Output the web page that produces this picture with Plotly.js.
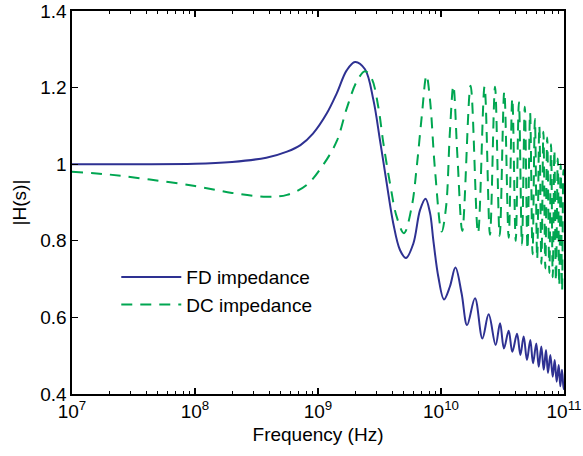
<!DOCTYPE html>
<html>
<head>
<meta charset="utf-8">
<script src="https://cdn.plot.ly/plotly-3.0.1.min.js"></script>
<style>
  html, body { margin: 0; padding: 0; background: #ffffff; }
  #chart { width: 583px; height: 456px; }
</style>
</head>
<body>
<div id="chart"></div>
<script>
// ---- Data ----
// FD impedance (solid blue): frequency in Hz, magnitude |H(s)|
const fdFreq = [
  1e7, 3e7, 1e8, 2e8, 3.8e8, 5.6e8, 7.2e8, 9.1e8, 1.18e9, 1.42e9, 1.71e9,
  2.0e9, 2.41e9, 2.82e9, 3.19e9, 3.62e9, 4.09e9, 4.64e9, 5.19e9, 5.96e9,
  6.75e9, 7.48e9, 8.14e9, 8.66e9, 9.51e9, 1.057e10, 1.18e10, 1.31e10,
  1.47e10, 1.63e10, 1.89e10, 2.17e10, 2.44e10, 2.78e10, 3.02e10, 3.25e10,
  3.55e10, 3.80e10, 4.15e10, 4.42e10, 4.70e10, 5.00e10, 5.32e10, 5.60e10,
  5.95e10, 6.23e10, 6.54e10, 6.84e10, 7.14e10, 7.41e10, 7.74e10, 8.10e10,
  8.40e10, 8.72e10, 9.06e10, 9.33e10, 9.63e10, 9.93e10, 1.0e11
];
const fdMag = [
  1.000, 1.000, 1.001, 1.006, 1.017, 1.033, 1.050, 1.080, 1.133, 1.185, 1.245,
  1.267, 1.248, 1.168, 1.063, 0.950, 0.846, 0.776, 0.755, 0.793,
  0.880, 0.910, 0.873, 0.802, 0.706, 0.647, 0.680, 0.730,
  0.663, 0.580, 0.650, 0.545, 0.608, 0.528, 0.585, 0.519,
  0.565, 0.510, 0.557, 0.502, 0.550, 0.489, 0.541, 0.480,
  0.532, 0.471, 0.524, 0.463, 0.515, 0.455, 0.502, 0.445,
  0.489, 0.432, 0.476, 0.420, 0.463, 0.413, 0.416
];

// DC impedance (dashed green)
const dcFreq = [
  1e7, 2e7, 4.3e7, 1e8, 2e8, 3.8e8, 5.6e8, 8.1e8, 1.1e9, 1.42e9, 1.71e9,
  2.06e9, 2.41e9, 2.73e9, 3.09e9, 3.40e9, 3.85e9, 4.36e9, 5.0e9, 5.78e9,
  6.35e9, 6.97e9, 7.62e9, 8.14e9, 8.94e9, 1.013e10, 1.10e10, 1.18e10,
  1.26e10, 1.36e10, 1.49e10, 1.74e10, 2.00e10, 2.26e10, 2.50e10, 2.75e10,
  3.00e10, 3.27e10, 3.55e10, 3.80e10, 4.05e10, 4.30e10, 4.55e10, 4.80e10,
  5.05e10, 5.30e10, 5.55e10, 5.80e10, 6.05e10, 6.30e10, 6.55e10, 6.80e10,
  7.05e10, 7.30e10, 7.60e10, 7.85e10, 8.10e10, 8.35e10, 8.60e10, 8.90e10,
  9.15e10, 9.40e10, 9.65e10, 9.90e10, 1.0e11
];
const dcMag = [
  0.980, 0.973, 0.960, 0.943, 0.925, 0.915, 0.920, 0.946, 0.998, 1.060, 1.145,
  1.215, 1.243, 1.224, 1.150, 1.055, 0.950, 0.863, 0.820, 0.889,
  0.993, 1.124, 1.232, 1.168, 0.985, 0.824, 0.889, 1.081,
  1.205, 1.020, 0.826, 1.205, 0.820, 1.203, 0.816, 1.202,
  0.813, 1.190, 0.808, 1.172, 0.800, 1.162, 0.790, 1.150,
  0.778, 1.135, 0.765, 1.118, 0.752, 1.100, 0.740, 1.085,
  0.728, 1.070, 0.716, 1.052, 0.705, 1.037, 0.695, 1.015,
  0.683, 1.000, 0.670, 0.985, 0.970
];

const seriesNames = ['FD impedance', 'DC impedance'];
const xTickVals = [1e7, 1e8, 1e9, 1e10, 1e11];
const xTickText = ['10<sup>7</sup>', '10<sup>8</sup>', '10<sup>9</sup>', '10<sup>10</sup>', '10<sup>11</sup>'];
const yTickVals = [0.4, 0.6, 0.8, 1.0, 1.2, 1.4];
const yTickText = ['0.4', '0.6', '0.8', '1', '1.2', '1.4'];

// minor tick positions on the log axis (2..9 within each decade)
const minorX = [];
for (let d = 7; d < 11; d++) {
  for (let k = 2; k <= 9; k++) minorX.push(k * Math.pow(10, d));
}

const FONT = 'Liberation Sans, Arial, Helvetica, sans-serif';

const traces = [
  {
    x: fdFreq, y: fdMag, name: seriesNames[0], type: 'scatter', mode: 'lines',
    line: { color: '#2e3192', width: 2, shape: 'spline', smoothing: 1 }
  },
  {
    x: dcFreq, y: dcMag, name: seriesNames[1], type: 'scatter', mode: 'lines',
    line: { color: '#00a651', width: 2, dash: '11px,8px', shape: 'spline', smoothing: 1 }
  }
];

const layout = {
  width: 583, height: 456,
  margin: { l: 72, r: 19, t: 11, b: 62 },
  paper_bgcolor: '#ffffff', plot_bgcolor: '#ffffff',
  font: { family: FONT, size: 19, color: '#000000' },
  showlegend: true,
  legend: {
    x: 0.09, y: 0.355, xanchor: 'left', yanchor: 'top',
    bgcolor: 'rgba(255,255,255,0)', borderwidth: 0,
    font: { family: FONT, size: 19, color: '#000000' },
    itemwidth: 60
  },
  xaxis: {
    type: 'log', range: [7, 11], tickvals: xTickVals, ticktext: xTickText,
    showline: true, linecolor: '#000000', linewidth: 1.6, mirror: 'ticks',
    ticks: 'inside', ticklen: 6, tickwidth: 1.2, tickcolor: '#000000',
    showgrid: false, zeroline: false,
    tickfont: { family: FONT, size: 19, color: '#000000' },
    minor: { tickvals: minorX, ticks: 'inside', ticklen: 3, tickwidth: 1, tickcolor: '#000000', showgrid: false },
    title: { text: 'Frequency (Hz)', font: { family: FONT, size: 19, color: '#000000' }, standoff: 6 }
  },
  yaxis: {
    range: [0.4, 1.4], tickvals: yTickVals, ticktext: yTickText,
    showline: true, linecolor: '#000000', linewidth: 1.6, mirror: 'ticks',
    ticks: 'inside', ticklen: 6, tickwidth: 1.2, tickcolor: '#000000',
    showgrid: false, zeroline: false,
    tickfont: { family: FONT, size: 19, color: '#000000' },
    title: { text: '|H(s)|', font: { family: FONT, size: 19, color: '#000000' }, standoff: 8 }
  }
};

Plotly.newPlot('chart', traces, layout, { staticPlot: true, displayModeBar: false });
</script>
</body>
</html>
